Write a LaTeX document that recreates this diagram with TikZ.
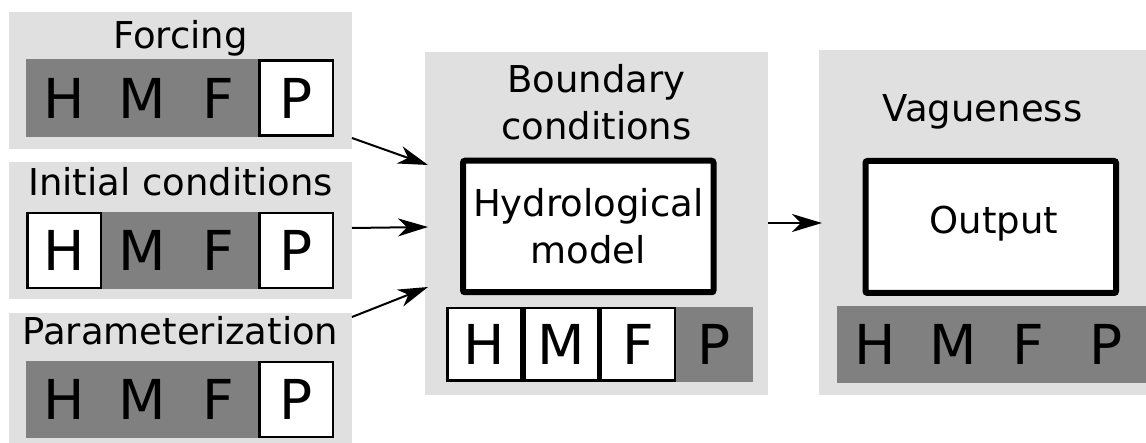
\documentclass[tikz,border=0pt]{standalone}
\usepackage{fontspec}
\setmainfont{DejaVu Sans}
\usetikzlibrary{arrows.meta}
\definecolor{panelgrey}{HTML}{E0E0E0}
\definecolor{bargrey}{HTML}{808080}
\newcommand{\ttlfont}{\fontsize{37}{47}\selectfont}
\newcommand{\ltrfont}{\fontsize{55}{60}\selectfont}
\begin{document}
\begin{tikzpicture}[x=1pt,y=-1pt,
  panel/.style={fill=panelgrey, inner sep=0pt, outer sep=0pt},
  bar/.style={fill=bargrey, inner sep=0pt, outer sep=0pt},
  cell/.style={draw=black, line width=2.5pt, fill=white, inner sep=0pt},
  lcell/.style={cell, minimum width=73.5pt, minimum height=75pt},
  ccell/.style={cell, minimum width=74pt, minimum height=72.5pt},
  bigbox/.style={draw=black, line width=6pt, fill=white, rounded corners=2pt,
    inner sep=0pt, minimum width=250.5pt, minimum height=131.5pt, align=center, font=\ttlfont},
  ttl/.style={font=\ttlfont, inner sep=0pt, anchor=base},
  ltr/.style={font=\ltrfont, inner sep=0pt},
  arr/.style={line width=2pt, -{Stealth[length=30pt,width=18pt,inset=9pt]}}]
\useasboundingbox (0,0) rectangle (1146,443);
% panels
\node[panel, minimum width=343pt, minimum height=137pt] (forcing) at (180.5,80.5) {};
\node[panel, minimum width=343pt, minimum height=137pt] (initial) at (180.5,230.5) {};
\node[panel, minimum width=343pt, minimum height=137pt] (param) at (180.5,381.5) {};
\node[panel, minimum width=343pt, minimum height=343pt] (center) at (596.5,223.5) {};
\node[panel, minimum width=343pt, minimum height=345pt] (right) at (990.5,222.5) {};
% titles
\node[ttl] (tf) at (180.5,49) {Forcing};
\node[ttl] (ti) at (180.5,196) {Initial conditions};
\node[ttl] (tp) at (180.5,345) {Parameterization};
\node[ttl] (tb1) at (596.5,93) {Boundary};
\node[ttl] (tb2) at (596.5,140) {conditions};
\node[ttl] (tv) at (982.5,122) {Vagueness};
% bars
\node[bar, minimum width=308pt, minimum height=78pt] (barf) at (180,98) {};
\node[bar, minimum width=308pt, minimum height=77pt] (bari) at (180,250.5) {};
\node[bar, minimum width=308pt, minimum height=77pt] (barp) at (180,399.5) {};
\node[bar, minimum width=307pt, minimum height=75pt] (barc) at (599.5,344.5) {};
\node[bar, minimum width=313pt, minimum height=77pt] (barr) at (993.5,344.5) {};
% white cells
\node[lcell] (fP) at (296,98) {};
\node[lcell] (iH) at (64,250.5) {};
\node[lcell] (iP) at (296,250.5) {};
\node[lcell] (pP) at (296,399.5) {};
\node[ccell] (cH) at (484.5,344.5) {};
\node[ccell] (cM) at (561.5,344.5) {};
\node[ccell] (cF) at (638,344.5) {};
% letters
\foreach \yy/\nm in {98/f,250.5/i,399.5/p}{
  \node[ltr] (\nm lH) at (64.5,\yy) {H};
  \node[ltr] (\nm lM) at (142,\yy) {M};
  \node[ltr] (\nm lF) at (218,\yy) {F};
  \node[ltr] (\nm lP) at (296,\yy) {P};
}
\node[ltr] (clH) at (484.5,344.5) {H};
\node[ltr] (clM) at (561.5,344.5) {M};
\node[ltr] (clF) at (638,344.5) {F};
\node[ltr] (clP) at (714.5,344.5) {P};
\node[ltr] (rlH) at (875.5,344.5) {H};
\node[ltr] (rlM) at (953.5,344.5) {M};
\node[ltr] (rlF) at (1028,344.5) {F};
\node[ltr] (rlP) at (1106.5,344.5) {P};
% big boxes
\node[bigbox] (hydro) at (588.25,226.5) {Hydrological\\model};
\node[bigbox, minimum height=132pt] (output) at (990.75,227) {};
\node[ttl, anchor=center] (outtxt) at (994,223.5) {Output};
% arrows
\draw[arr] ([yshift=-57.5pt]forcing.east) -- ([xshift=3pt,yshift=58.5pt]center.west);
\draw[arr] ([yshift=2.5pt]initial.east) -- ([xshift=3pt,yshift=-3.5pt]center.west);
\draw[arr] ([yshift=64.5pt]param.east) -- ([xshift=3pt,yshift=-63.5pt]center.west);
\draw[arr] ([yshift=0.5pt]center.east) -- ([xshift=3pt,yshift=-0.5pt]right.west);
\end{tikzpicture}
\end{document}
